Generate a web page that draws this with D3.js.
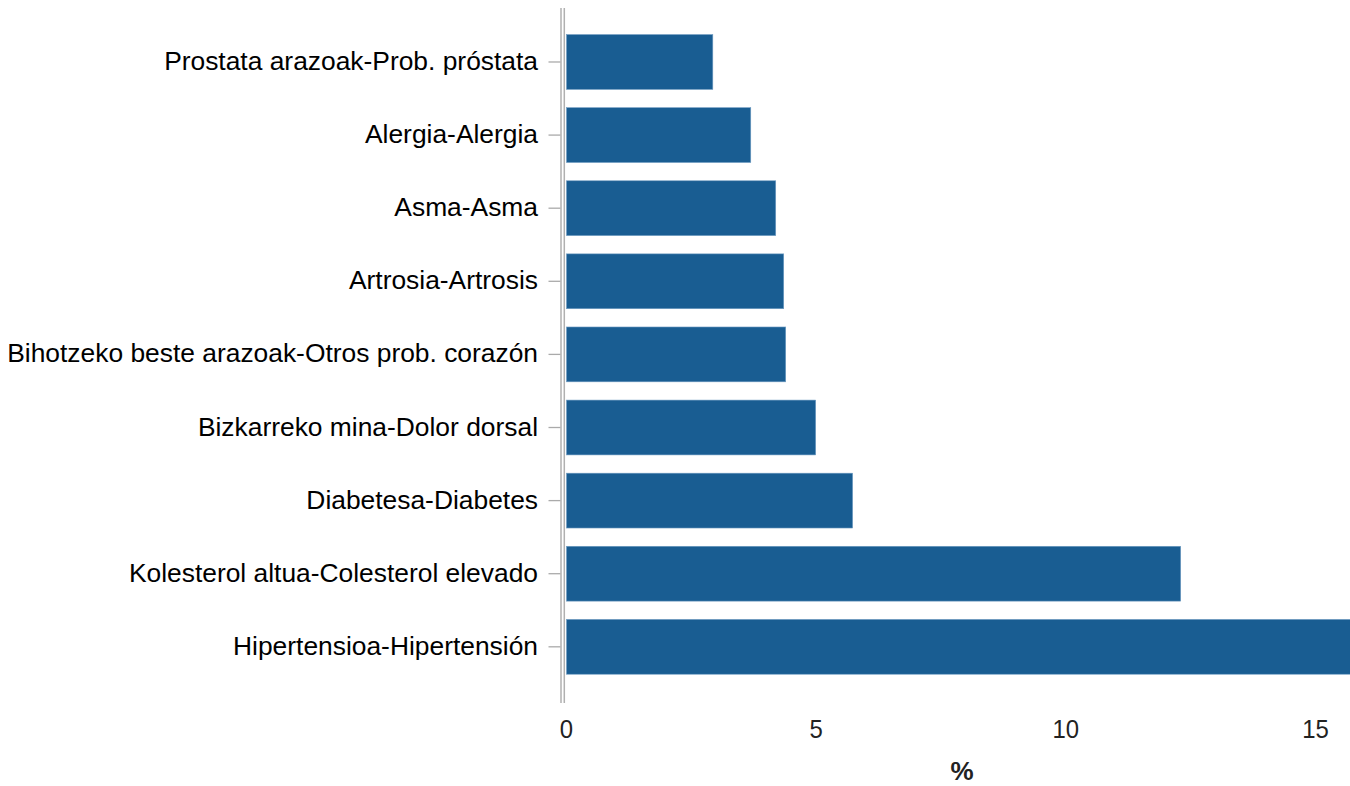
<!DOCTYPE html>
<html><head><meta charset="utf-8">
<script src="https://cdn.jsdelivr.net/npm/d3@7"></script>
<style>body{margin:0;background:#fff}svg text{font-family:"Liberation Sans",Arial,sans-serif}</style>
</head><body>
<svg id="c" width="1350" height="786"></svg>
<script>
const categories = ["Prostata arazoak-Prob. próstata","Alergia-Alergia","Asma-Asma","Artrosia-Artrosis","Bihotzeko beste arazoak-Otros prob. corazón","Bizkarreko mina-Dolor dorsal","Diabetesa-Diabetes","Kolesterol altua-Colesterol elevado","Hipertensioa-Hipertensión"];
const values = [2.93, 3.69, 4.19, 4.35, 4.39, 4.99, 5.73, 12.3, 16.4];
const xTicks = [0, 5, 10, 15];
const xTitle = "%";

const svg = d3.select("#c");
const x = d3.scaleLinear().domain([0, 15]).range([566.5, 1315.5]);
const y = d3.scaleBand().domain(categories).range([16.3, 692.5]).paddingInner(0.25).paddingOuter(0.25);

svg.append("clipPath").attr("id","clp").append("rect").attr("x",0).attr("y",0).attr("width",1350).attr("height",786);

svg.append("g").attr("clip-path","url(#clp)").selectAll("rect").data(values).join("rect")
  .attr("x", x(0)).attr("y", (d,i)=>y(categories[i]))
  .attr("width", d=>x(d)-x(0)).attr("height", y.bandwidth())
  .attr("fill", "#195d92").attr("stroke","#6f9cc2").attr("stroke-width",0.6);

// double axis line
svg.append("line").attr("x1",561).attr("x2",561).attr("y1",8).attr("y2",703).attr("stroke","#b0b0b0").attr("stroke-width",1.5);
svg.append("line").attr("x1",564.3).attr("x2",564.3).attr("y1",8).attr("y2",703).attr("stroke","#b0b0b0").attr("stroke-width",1.5);

const yAxis = d3.axisLeft(y).tickSize(12).tickPadding(9);
const gy = svg.append("g").attr("transform","translate(560.5,0)").call(yAxis);
gy.select(".domain").remove();
gy.selectAll(".tick line").attr("stroke","#aaaaaa").attr("stroke-width",1.3);
gy.selectAll(".tick text").attr("font-size","25px").attr("fill","#000")
  .attr("x",0).attr("transform","translate(-22.5,0) scale(1.056,1)");

const xAxis = d3.axisBottom(x).tickValues(xTicks).tickSize(0).tickPadding(0).tickFormat(d3.format("d"));
const gx = svg.append("g").attr("transform","translate(0,738)").call(xAxis);
gx.select(".domain").remove();
gx.selectAll(".tick text").attr("font-size","26px").attr("fill","#222")
  .attr("dy","0").attr("y",0).attr("transform","scale(0.92,1)");
gx.selectAll(".tick").attr("transform", d => `translate(${x(d)},0)`);

svg.append("text").attr("x",962).attr("y",780).attr("text-anchor","middle")
  .attr("font-size","26px").attr("font-weight","bold").attr("fill","#222").text(xTitle);
</script>
</body></html>
